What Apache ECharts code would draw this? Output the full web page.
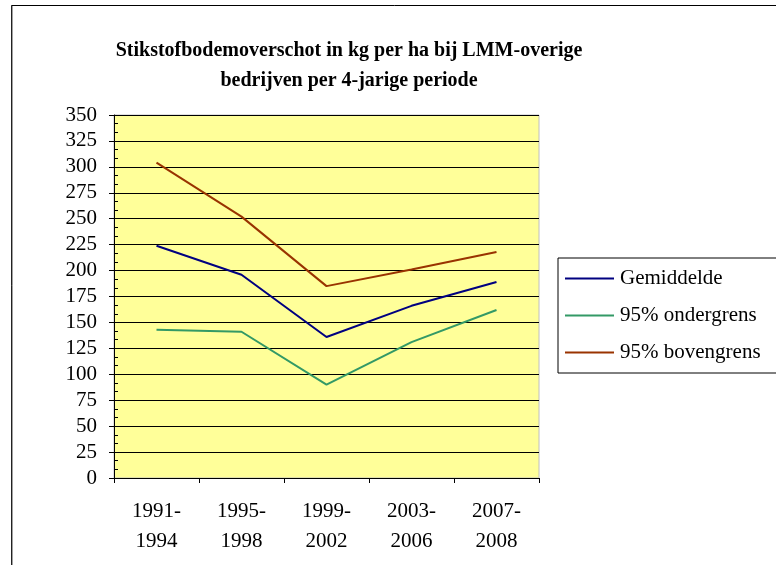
<!DOCTYPE html>
<html>
<head>
<meta charset="utf-8">
<script src="https://cdn.jsdelivr.net/npm/echarts@6/dist/echarts.min.js"></script>
<style>
  html, body { margin: 0; padding: 0; background: #fff; }
  #chart { width: 776px; height: 565px; }
</style>
</head>
<body>
<div id="chart"></div>
<script>
// periodes (x-as)
var periods = ["1991-\n1994", "1995-\n1998", "1999-\n2002", "2003-\n2006", "2007-\n2008"];
// reeksen
var gemiddelde = [224, 196, 136, 166, 189];
var ondergrens = [143, 141, 90, 131, 162];
var bovengrens = [304, 252, 185, 201, 218];
var seriesNames = ["Gemiddelde", "95% ondergrens", "95% bovengrens"];

var serif = "'Liberation Serif', 'Times New Roman', serif";

var myChart = echarts.init(document.getElementById("chart"));

function lineSeries(name, data, color) {
  return {
    name: name,
    type: "line",
    data: data,
    symbol: "none",
    lineStyle: { color: color, width: 2 },
    itemStyle: { color: color },
  };
}

var option = {
  animation: false,
  backgroundColor: "#ffffff",
  title: {
    text: "Stikstofbodemoverschot in kg per ha bij LMM-overige\nbedrijven per 4-jarige periode",
    left: 344,
    top: 31,
    textAlign: "center",
    textStyle: {
      fontFamily: serif,
      fontWeight: "bold",
      fontSize: 20,
      lineHeight: 30,
      color: "#000",
    },
  },
  legend: {
    orient: "vertical",
    left: 558,
    top: 258,
    width: 230,
    padding: [9, 40, 9, 7],
    itemWidth: 49,
    itemHeight: 14,
    itemGap: 14,
    borderColor: "#000",
    borderWidth: 1,
    icon: "path://M0,6 L49,6 L49,8 L0,8 Z",
    data: seriesNames,
    textStyle: { fontFamily: serif, fontSize: 21, lineHeight: 23, color: "#000", padding: [0, 0, 0, 1] },
  },
  grid: {
    show: true,
    left: 114,
    top: 115,
    width: 425,
    height: 363,
    backgroundColor: "#ffff99",
    borderColor: "#c0c0c0",
    borderWidth: 1,
  },
  xAxis: {
    type: "category",
    data: periods,
    boundaryGap: true,
    axisLine: { lineStyle: { color: "#000", width: 1 } },
    axisTick: { show: true, length: 5, lineStyle: { color: "#000" } },
    axisLabel: {
      fontFamily: serif,
      fontSize: 21,
      lineHeight: 30,
      color: "#000",
      margin: 18,
    },
  },
  yAxis: [
    {
      type: "value",
      min: 0,
      max: 350,
      interval: 25,
      axisLine: { show: true, lineStyle: { color: "#000", width: 1 } },
      axisTick: { show: true, length: 5, lineStyle: { color: "#000" } },
      axisLabel: { fontFamily: serif, fontSize: 21, color: "#000", margin: 17 },
      splitLine: { show: true, lineStyle: { color: "#000", width: 1 } },
    },
    {
      // binnenste maatstreepjes met tussenstreepjes
      type: "value",
      position: "left",
      min: 0,
      max: 350,
      interval: 25,
      axisLine: { show: false },
      axisTick: { show: true, inside: true, length: 4, lineStyle: { color: "#000" } },
      minorTick: { show: true, splitNumber: 3, length: 4, lineStyle: { color: "#000" } },
      axisLabel: { show: false },
      splitLine: { show: false },
    },
  ],
  series: [
    lineSeries(seriesNames[0], gemiddelde, "#000080"),
    lineSeries(seriesNames[1], ondergrens, "#339966"),
    lineSeries(seriesNames[2], bovengrens, "#993300"),
  ],
  graphic: [
    {
      type: "rect",
      shape: { x: 11.5, y: 5.5, width: 800, height: 600 },
      style: { fill: null, stroke: "#000", lineWidth: 1 },
      silent: true,
    },
    {
      type: "line",
      shape: { x1: 12, y1: 6, x2: 12, y2: 565 },
      style: { stroke: "#444", lineWidth: 1 },
      silent: true,
    },
  ],
};

myChart.setOption(option);
window.addEventListener("resize", function () {
  myChart.resize();
});
</script>
</body>
</html>
